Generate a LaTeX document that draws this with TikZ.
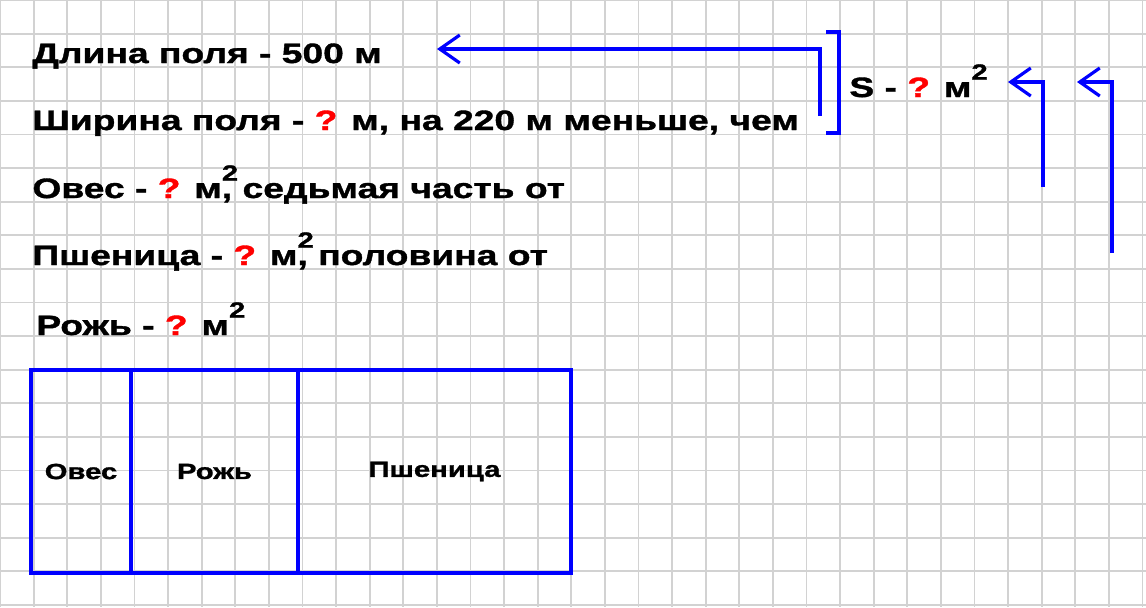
\documentclass[tikz,border=0pt]{standalone}
\usepackage{fontspec}
\setmainfont{Liberation Sans}[FakeStretch=1.33,FakeBold=1.3]
\usetikzlibrary{arrows.meta}
\newcommand{\qm}{\textcolor{red}{?}}
\newcommand{\sqtop}{\raisebox{0.62em}{\fontsize{11}{11}\selectfont 2}}
\begin{document}
\begin{tikzpicture}[x=0.5pt,y=-0.5pt,
    gridline/.style={gray!35, line width=0.9pt},
    txt/.style={anchor=base west, inner sep=0pt, font=\bfseries\fontsize{14}{16}\selectfont},
    plot/.style={draw=blue, line width=1.6pt, anchor=north west, inner sep=0pt, outer sep=0pt,
      minimum height=101.5pt, font=\bfseries\fontsize{11}{12}\selectfont},
    blueline/.style={blue, line width=1.6pt},
    bluearrow/.style={blue, line width=1.6pt, -{Straight Barb[length=10pt,width=14pt,line width=1.6pt]}}]
    \useasboundingbox (0,0) rectangle (1146,607);
    \fill[white] (0,0) rectangle (1146,607);
    % grid paper
    \foreach \i in {0,...,34} \draw[gridline] (\i*33.6,0) -- (\i*33.6,607);
    \foreach \j in {0,...,18} \draw[gridline] (0,\j*33.6) -- (1146,\j*33.6);

    \node[txt] (len) at (32, 63) {Длина поля - 500 м};
    \node[txt] (wid) at (32,130) {Ширина поля - \qm{} м, на 220 м меньше, чем};
    \node[txt] (oats) at (32,198) {Овес - \qm{} м\rlap{\sqtop}, седьмая часть от};
    \node[txt] (wheat) at (32,265) {Пшеница - \qm{} м\rlap{\sqtop}, половина от};
    \node[txt] (rye) at (36,335) {Рожь - \qm{} м\sqtop};
    \node[txt] (area) at (849, 97) {S - \qm{} м\sqtop};

    \node[plot, minimum width=50pt] (poats) at (31,370) {Овес};
    \node[plot, minimum width=83.5pt] (prye) at (poats.north east) {Рожь};
    \node[plot, minimum width=136.5pt] (pwheat) at (prye.north east) {Пшеница};

    \coordinate (widend) at (820,116);
    \coordinate (lenend) at (437,49);
    \coordinate (oatsend) at (1043,187);
    \coordinate (wheatend) at (1112,253);
    \coordinate (areaa) at (1008,82);
    \coordinate (areab) at (1077,82);

    \draw[bluearrow] (widend) |- (lenend);
    \draw[blueline] (826,32) -| (839,133) -- (826,133);
    \draw[bluearrow] (oatsend) |- (areaa);
    \draw[bluearrow] (wheatend) |- (areab);
\end{tikzpicture}
\end{document}
